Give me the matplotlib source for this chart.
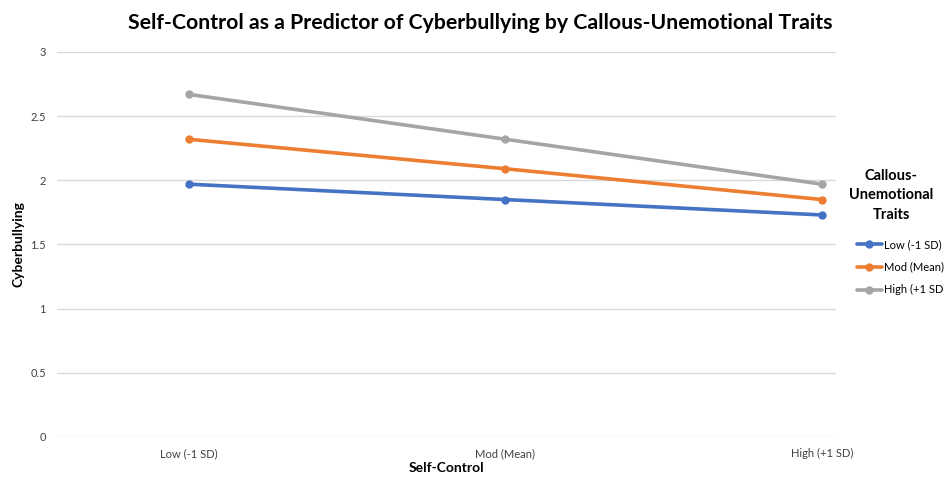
import matplotlib
matplotlib.use("Agg")
import matplotlib.pyplot as plt

plt.rcParams['font.family'] = ['Lato', 'DejaVu Sans']

# data
categories = ['Low (-1 SD)', 'Mod (Mean)', 'High (+1 SD)']
low_cu = [1.97, 1.85, 1.73]
mod_cu = [2.32, 2.09, 1.85]
high_cu = [2.67, 2.32, 1.97]
series_names = ['Low (-1 SD)', 'Mod (Mean)', 'High (+1 SD)']
colors = ['#4472C4', '#ED7D31', '#A5A5A5']

fig = plt.figure(figsize=(9.45, 4.8), dpi=100)
ax = fig.add_axes([0.0603, 0.0896, 0.8244, 0.8021])

x = range(len(categories))
for vals, name, c in zip([low_cu, mod_cu, high_cu], series_names, colors):
    ax.plot(x, vals, color=c, lw=2.6, marker='o', ms=5, label=name,
            solid_capstyle='round')

ax.set_ylim(0, 3)
ax.set_yticks([0, 0.5, 1, 1.5, 2, 2.5, 3])
ax.set_yticklabels(['0', '0.5', '1', '1.5', '2', '2.5', '3'])
ax.set_xlim(-0.416, 2.044)
ax.set_xticks(list(x))
ax.set_xticklabels(categories)
ax.grid(axis='y', color='#d9d9d9', lw=1)
ax.set_axisbelow(True)
for s in ax.spines.values():
    s.set_visible(False)
ax.tick_params(length=0, labelsize=8, labelcolor='#404040')
ax.tick_params(axis='x', pad=8)
ax.tick_params(axis='y', pad=8)

ax.set_xlabel('Self-Control', fontsize=10, fontweight='bold', labelpad=2)
ax.set_ylabel('Cyberbullying', fontsize=10, fontweight='bold')
ax.yaxis.set_label_coords(-0.042, 0.5)

fig.text(0.508, 0.953, 'Self-Control as a Predictor of Cyberbullying by Callous-Unemotional Traits',
         ha='center', va='center', fontsize=15.3, fontweight='bold')

fig.text(0.943, 0.593, 'Callous-\nUnemotional\nTraits', ha='center', va='center',
         fontsize=10.5, fontweight='bold', linespacing=1.5)

leg = fig.legend(loc='upper left', bbox_to_anchor=(0.907, 0.502), frameon=False,
                 fontsize=8, handlelength=2.2, handletextpad=0.2, labelspacing=1.05,
                 borderaxespad=0, borderpad=0)

fig.savefig('out.png', dpi=100)
